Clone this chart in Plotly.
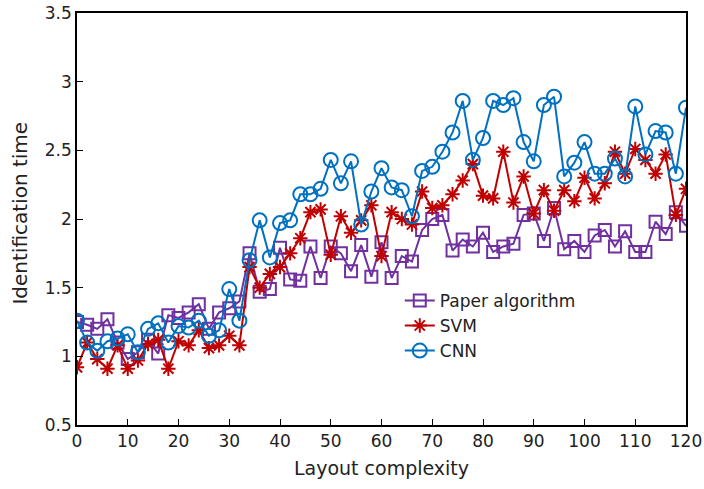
import plotly.graph_objects as go

x = list(range(0, 121, 2))

paper = [1.25, 1.23, 1.20, 1.27, 1.10, 0.98, 1.03, 1.12, 1.02, 1.30,
         1.28, 1.32, 1.38, 1.20, 1.32, 1.35, 1.40, 1.75, 1.47, 1.49,
         1.79, 1.56, 1.55, 1.80, 1.57, 1.80, 1.75, 1.62, 1.81, 1.58,
         1.83, 1.57, 1.73, 1.69, 1.92, 2.00, 2.03, 1.77, 1.85, 1.80,
         1.90, 1.76, 1.80, 1.82, 2.03, 2.04, 1.84, 2.08, 1.78, 1.84,
         1.76, 1.88, 1.92, 1.80, 1.91, 1.76, 1.76, 1.98, 1.89, 2.05,
         1.95]

svm = [0.92, 1.10, 0.98, 0.91, 1.08, 0.91, 0.97, 1.09, 1.12, 0.91,
       1.11, 1.08, 1.19, 1.06, 1.08, 1.15, 1.08, 1.65, 1.50, 1.60,
       1.65, 1.75, 1.86, 2.05, 2.07, 1.74, 2.02, 1.90, 1.99, 2.10,
       1.73, 2.05, 2.00, 1.96, 2.20, 2.08, 2.10, 2.18, 2.28, 2.40,
       2.17, 2.15, 2.49, 2.12, 2.31, 2.04, 2.21, 2.06, 2.21, 2.13,
       2.30, 2.15, 2.26, 2.49, 2.33, 2.51, 2.43, 2.33, 2.47, 2.03,
       2.22]

cnn = [1.26, 1.10, 1.04, 1.11, 1.13, 1.16, 1.03, 1.20, 1.24, 1.10,
       1.22, 1.21, 1.26, 1.15, 1.19, 1.49, 1.26, 1.70, 1.99, 1.72,
       1.97, 1.99, 2.18, 2.18, 2.22, 2.43, 2.26, 2.42, 1.96, 2.20,
       2.37, 2.23, 2.21, 2.02, 2.35, 2.38, 2.49, 2.63, 2.86, 2.43,
       2.59, 2.86, 2.83, 2.88, 2.56, 2.42, 2.83, 2.89, 2.31, 2.41,
       2.56, 2.33, 2.33, 2.44, 2.31, 2.82, 2.47, 2.64, 2.63, 2.33,
       2.81]

x_title = "Layout complexity"
y_title = "Identification time"

font_family = "DejaVu Sans"

fig = go.Figure()
fig.add_trace(go.Scatter(
    x=x, y=paper, name="Paper algorithm", mode="lines+markers",
    line=dict(color="#7030A0", width=2),
    marker=dict(symbol="square-open", size=12, color="#7030A0",
                line=dict(width=2, color="#7030A0"))))
fig.add_trace(go.Scatter(
    x=x, y=svm, name="SVM", mode="lines+markers",
    line=dict(color="#C00000", width=2),
    marker=dict(symbol="asterisk-open", size=12, color="#C00000",
                line=dict(width=2, color="#C00000"))))
fig.add_trace(go.Scatter(
    x=x, y=cnn, name="CNN", mode="lines+markers",
    line=dict(color="#0070C0", width=2),
    marker=dict(symbol="circle-open", size=14, color="#0070C0",
                line=dict(width=2, color="#0070C0"))))

fig.update_layout(
    width=704, height=489,
    margin=dict(l=77, r=18, t=13, b=64),
    paper_bgcolor="white", plot_bgcolor="white",
    font=dict(family=font_family, size=17, color="#222"),
    legend=dict(x=0.53, y=0.345, xanchor="left", yanchor="top",
                bgcolor="rgba(255,255,255,0)", font=dict(size=17),
                itemwidth=30, tracegroupgap=0),
    annotations=[dict(text=y_title, xref="paper", yref="paper",
                      x=-0.094, y=0.515, xanchor="center", yanchor="middle",
                      textangle=-90, showarrow=False,
                      font=dict(size=20, family=font_family, color="#222"))],
)
fig.update_xaxes(
    range=[0, 120], tickmode="linear", tick0=0, dtick=10, automargin=False,
    ticklabeloverflow="allow",
    showline=True, linecolor="black", linewidth=1.5, mirror=True,
    ticks="inside", ticklen=6, tickcolor="black", showgrid=False, zeroline=False,
    title=dict(text=x_title, font=dict(size=19), standoff=12))
fig.update_yaxes(
    range=[0.5, 3.5], tickmode="linear", tick0=0.5, dtick=0.5, automargin=False,
    ticklabeloverflow="allow",
    showline=True, linecolor="black", linewidth=1.5, mirror=True,
    ticks="inside", ticklen=6, tickcolor="black", showgrid=False, zeroline=False)

fig.write_html("out.html", config={"displayModeBar": False},
               post_script="document.body.style.margin='0';document.body.style.overflow='hidden';")
